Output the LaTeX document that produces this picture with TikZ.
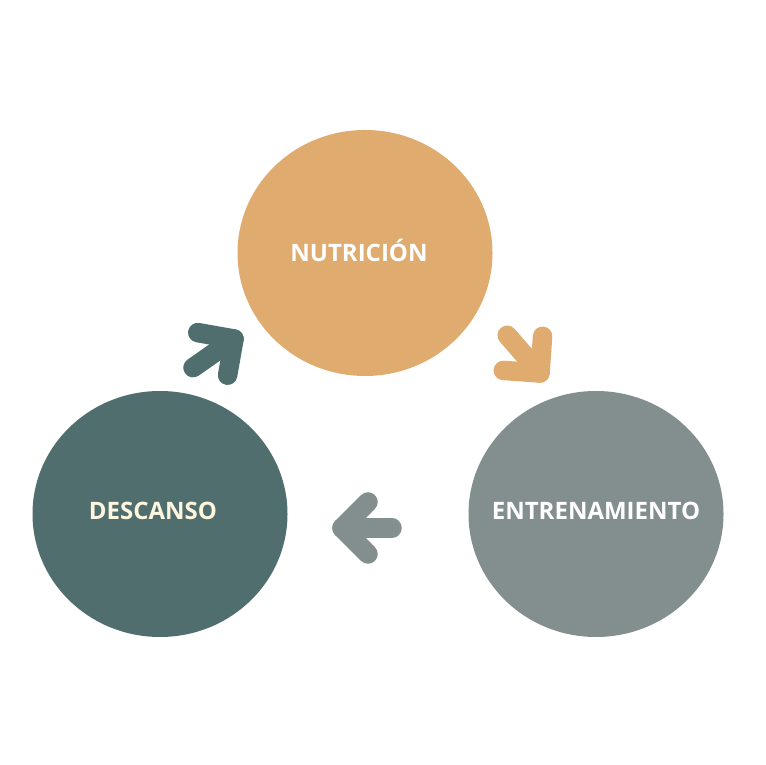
\documentclass[tikz,border=0pt]{standalone}
\usepackage{fontspec}
\setmainfont{Open Sans}
\usepackage{tikz}
\usetikzlibrary{shapes.geometric}
\definecolor{nutri}{HTML}{DFAB6E}
\definecolor{rest}{HTML}{4F6E6D}
\definecolor{train}{HTML}{838E8E}
\definecolor{cream}{HTML}{FFF6E0}
\begin{document}
\begin{tikzpicture}[x=1pt,y=1pt,
	stage/.style={ellipse, inner sep=0pt, minimum width=255pt, minimum height=246pt},
	stagetext/.style={inner sep=0pt, font=\fontsize{24}{28}\selectfont\bfseries},
	arrowstroke/.style={line width=19.5pt, line cap=round, line join=round},
	cyclearrow/.pic={
		\draw[arrowstroke, draw=#1] (-50,0) -- (0,0);
		\draw[arrowstroke, draw=#1] (-26,26) -- (0,0) -- (-26,-26);
	}]
	
	\fill[white] (0,0) rectangle (765,765);
	\useasboundingbox (0,0) rectangle (765,765);
	
	\node[stage, fill=nutri] (nutricion) at (365,512) {};
	\node[stage, fill=rest] (descanso) at (160,251) {};
	\node[stage, fill=train] (entrena) at (596,251) {};
	
	\node[stagetext, text=white] (nutricionlabel) at ([shift={(-6,3)}]nutricion.center) {NUTRICIÓN};
	\node[stagetext, text=cream] (descansolabel) at ([shift={(-7,3)}]descanso.center) {DESCANSO};
	\node[stagetext, text=white] (entrenalabel) at ([shift={(0,3)}]entrena.center) {ENTRENAMIENTO};
	
	\coordinate (tipRN) at (234,426);
	\coordinate (tipNE) at (540,392);
	\coordinate (tipER) at (342,237);
	
	\pic[rotate=35] at (tipRN) {cyclearrow=rest};
	\pic[rotate=-49] at (tipNE) {cyclearrow=nutri};
	\pic[rotate=180] at (tipER) {cyclearrow=train};
\end{tikzpicture}
\end{document}
